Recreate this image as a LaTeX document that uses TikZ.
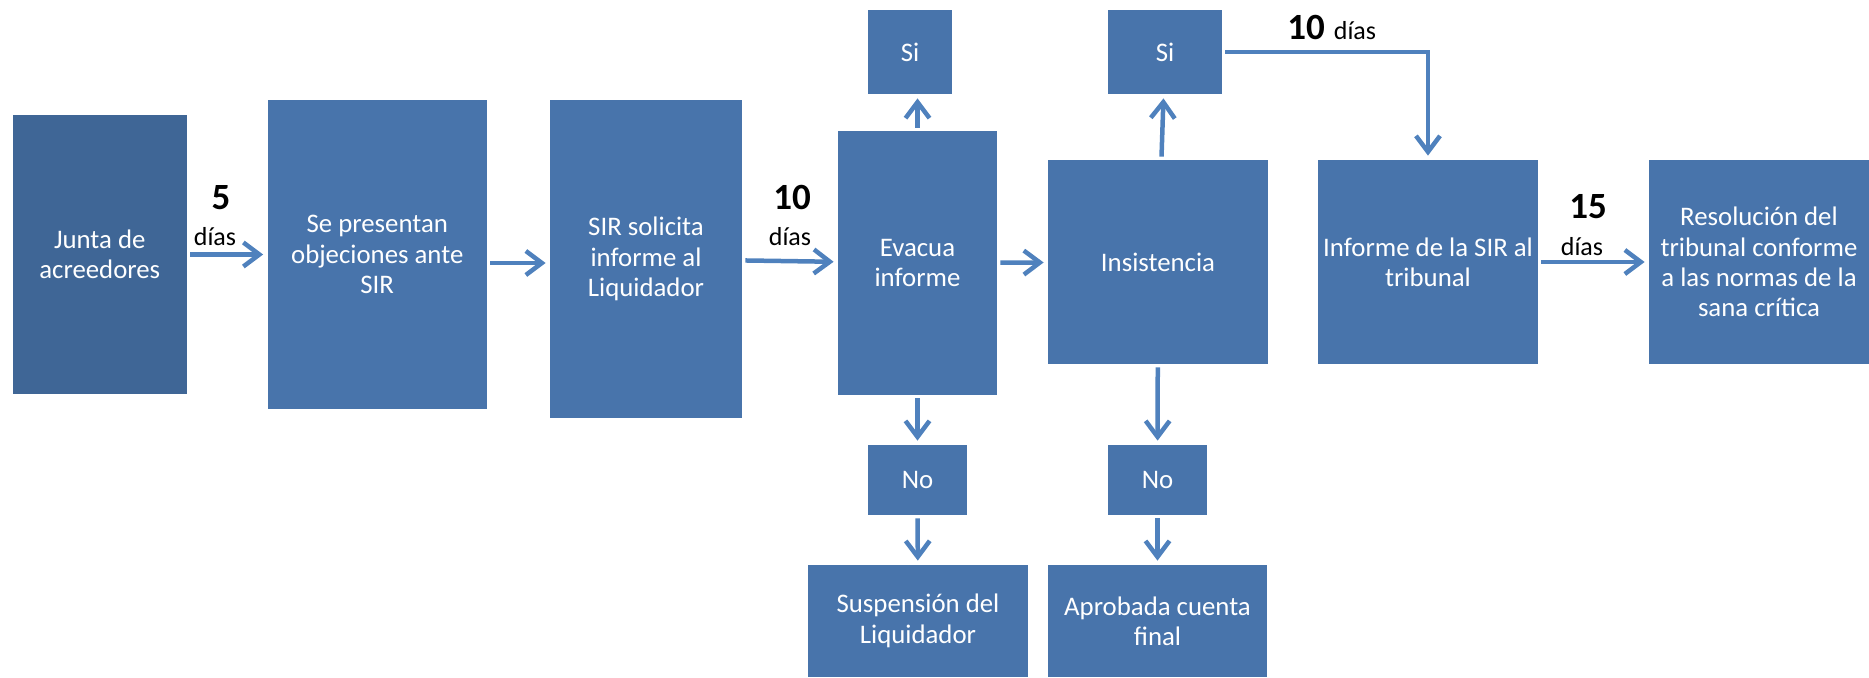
\documentclass[tikz,border=0pt]{standalone}
\usepackage{fontspec}
\setmainfont{Carlito}
\usetikzlibrary{arrows.meta}
\definecolor{cajaazul}{HTML}{4874AB}
\definecolor{juntaazul}{HTML}{3F6696}
\definecolor{flechaazul}{HTML}{4F81BD}
\begin{document}
\begin{tikzpicture}[x=0.5pt, y=-0.5pt,
    caja/.style ={rectangle, fill=cajaazul, text=white, inner sep=0pt, align=center,
      font=\fontsize{13.4}{15.2}\selectfont},
    flecha/.style ={draw=flechaazul, line width=2.25pt,
      -{Straight Barb[length=8pt,width=12pt]}, shorten >=2pt, shorten <=1.5pt},
    numero/.style ={font=\fontsize{18.5}{20}\selectfont\bfseries},
    dias/.style ={font=\fontsize{13}{14}\selectfont, anchor=base}]
   \useasboundingbox (0,0) rectangle (1869,677);

   \node[caja, fill=juntaazul, minimum width=87.25pt, minimum height=139.5pt] (junta) at (99.75,254.5) {Junta de\\acreedores};
   \node[caja, minimum width=109.75pt, minimum height=154.5pt] (objeciones) at (377.25,254.5) {Se presentan\\objeciones ante\\SIR};
   \node[caja, minimum width=96pt, minimum height=159pt] (sir) at (646,259) {SIR solicita\\informe al\\Liquidador};
   \node[caja, minimum width=79.5pt, minimum height=132pt] (evacua) at (917.5,263) {Evacua\\informe};
   \node[caja, minimum width=42pt, minimum height=42pt] (si1) at (910,52) {Si};
   \node[caja, minimum width=49.5pt, minimum height=35pt] (no1) at (917.5,480) {No};
   \node[caja, minimum width=110pt, minimum height=56pt] (suspension) at (918,621) {Suspensión del\\Liquidador};
   \node[caja, minimum width=110pt, minimum height=102pt] (insistencia) at (1158,262) {Insistencia};
   \node[caja, minimum width=57pt, minimum height=42pt] (si2) at (1165,52) {Si};
   \node[caja, minimum width=49.5pt, minimum height=35pt] (no2) at (1157.5,480) {No};
   \node[caja, minimum width=109.5pt, minimum height=56pt] (aprobada) at (1157.5,621) {Aprobada cuenta\\final};
   \node[caja, minimum width=110pt, minimum height=102pt] (informe) at (1428,262) {Informe de la SIR al\\tribunal};
   \node[caja, minimum width=110pt, minimum height=102pt] (resolucion) at (1759,262) {Resolución del\\tribunal conforme\\a las normas de la\\sana crítica};

   % plazos
   \node[numero] (n5) at (221,198) {5};
   \node[dias] (d5) at (215,245) {días};
   \node[numero] (n10a) at (792,197) {10};
   \node[dias] (d10a) at (790,245) {días};
   \node[numero] (n10b) at (1306,27) {10};
   \node[dias] (d10b) at (1355,39) {días};
   \node[numero] (n15) at (1588,207) {15};
   \node[dias] (d15) at (1582,255) {días};

   \draw[flecha] (junta) to (objeciones);
   \draw[flecha] (objeciones.east |- evacua) to (sir.west |- evacua);
   \draw[flecha] (sir) to (evacua);
   \draw[flecha] (evacua) to (insistencia);
   \draw[flecha] (evacua.north) to (evacua.north |- si1.south);
   \draw[flecha] (evacua) to (no1);
   \draw[flecha] (no1) to (suspension);

   \draw[flecha] (insistencia) to (si2);
   \draw[flecha] (insistencia) to (no2);
   \draw[flecha] (no2) to (aprobada);
   \draw[flecha] (si2.east) -| (informe.north);
   \draw[flecha] (informe) to (resolucion);

 \end{tikzpicture}
\end{document}
